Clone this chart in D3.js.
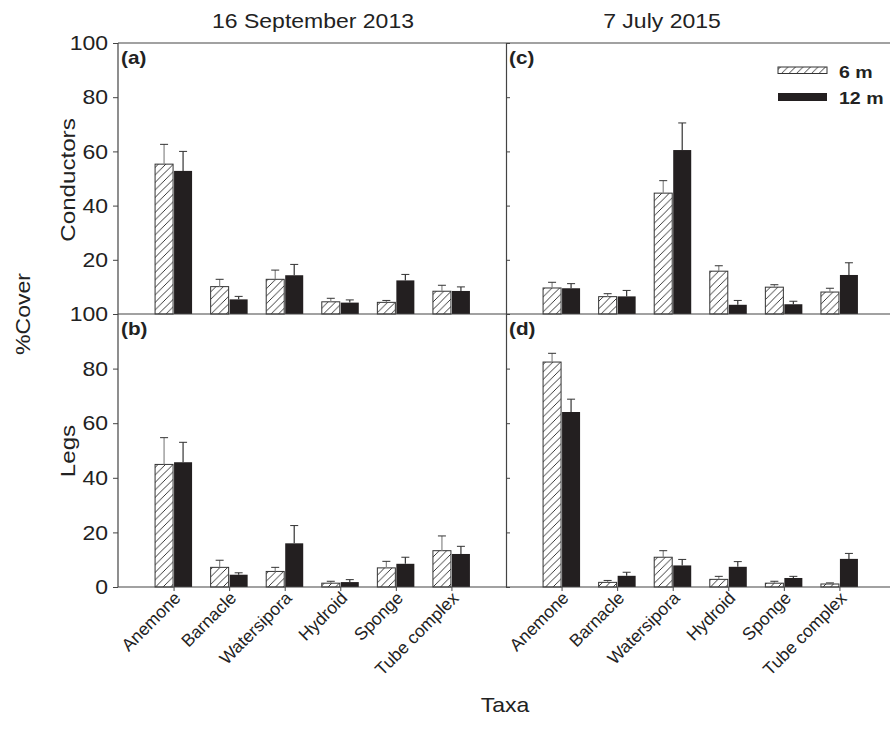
<!DOCTYPE html>
<html>
<head>
<meta charset="utf-8">
<script src="https://cdn.jsdelivr.net/npm/d3@7"></script>
<style>
  body { margin: 0; background: #fff; }
  text { font-family: "Liberation Sans", Arial, sans-serif; fill: #222; }
</style>
</head>
<body>
<script>
// categories and column / row labels
var taxa = ["Anemone", "Barnacle", "Watersipora", "Hydroid", "Sponge", "Tube complex"];
var dates = ["16 September 2013", "7 July 2015"];
var rowNames = ["Conductors", "Legs"];
var depths = ["6 m", "12 m"];
var yTicks = [0, 20, 40, 60, 80, 100];

// mean %cover
var cond2013_6 = [55.3, 10.1, 12.8, 4.5, 4.3, 8.4];
var cond2013_12 = [52.8, 5.4, 14.3, 4.2, 12.4, 8.5];
var cond2015_6 = [9.6, 6.4, 44.6, 15.8, 9.9, 8.1];
var cond2015_12 = [9.5, 6.5, 60.5, 3.4, 3.6, 14.4];
var legs2013_6 = [44.9, 7.2, 5.7, 1.4, 7.0, 13.3];
var legs2013_12 = [45.7, 4.5, 16.0, 1.8, 8.5, 12.1];
var legs2015_6 = [82.4, 1.7, 10.9, 2.8, 1.4, 1.1];
var legs2015_12 = [64.1, 4.1, 7.9, 7.4, 3.3, 10.3];

// standard errors (upper bar only)
var cond2013_6se = [7.3, 2.7, 3.4, 1.3, 0.7, 2.2];
var cond2013_12se = [7.2, 1.1, 4.0, 1.0, 2.2, 1.5];
var cond2015_6se = [2.1, 1.1, 4.6, 2.0, 0.9, 1.4];
var cond2015_12se = [1.7, 2.2, 10.0, 1.6, 1.1, 4.5];
var legs2013_6se = [9.8, 2.6, 1.5, 0.7, 2.4, 5.4];
var legs2013_12se = [7.3, 0.7, 6.5, 0.9, 2.4, 2.8];
var legs2015_6se = [3.2, 0.7, 2.4, 1.1, 0.7, 0.4];
var legs2015_12se = [4.7, 1.3, 2.2, 1.9, 0.6, 2.0];

var panels = [
  { id: "(a)", row: 0, col: 0, v6: cond2013_6, v12: cond2013_12, e6: cond2013_6se, e12: cond2013_12se },
  { id: "(c)", row: 0, col: 1, v6: cond2015_6, v12: cond2015_12, e6: cond2015_6se, e12: cond2015_12se },
  { id: "(b)", row: 1, col: 0, v6: legs2013_6, v12: legs2013_12, e6: legs2013_6se, e12: legs2013_12se },
  { id: "(d)", row: 1, col: 1, v6: legs2015_6, v12: legs2015_12, e6: legs2015_6se, e12: legs2015_12se }
];

var W = 890, H = 735;
var colX = [[118, 507], [506, 895]];
var rowY = [[314, 43], [587, 314]];
var barW = 18;
var axisCol = "#444";
var black = "#231f20";
var SX = 1.15; // the figure's font is wider than Arial

var svg = d3.select("body").append("svg")
    .attr("width", W)
    .attr("height", H);

// write a text at (x, y) with optional rotation, widened by sx
function label(x, y, str, size, opts) {
    opts = opts || {};
    var sx = opts.sx || SX;
    var t = svg.append("text")
        .attr("transform", "translate(" + x + "," + y + ")" +
            (opts.rot ? " rotate(" + opts.rot + ")" : "") + " scale(" + sx + ",1)")
        .attr("text-anchor", opts.anchor || "start")
        .style("font-size", size + "px")
        .text(str);
    if (opts.bold) t.style("font-weight", "bold");
    if (opts.dy) t.attr("dy", opts.dy);
    return t;
}

// hatch pattern for 6 m bars
var pat = svg.append("defs").append("pattern")
    .attr("id", "hatch")
    .attr("patternUnits", "userSpaceOnUse")
    .attr("width", 7.5)
    .attr("height", 7.5);
pat.append("rect").attr("width", 7.5).attr("height", 7.5).attr("fill", "#fff");
pat.append("path")
    .attr("d", "M-1,1 l2,-2 M0,7.5 l7.5,-7.5 M6.5,8.5 l2,-2")
    .attr("stroke", "#222")
    .attr("stroke-width", 0.9);

panels.forEach(function(p) {
    var x = d3.scalePoint().domain(taxa).range(colX[p.col]).padding(1);
    var y = d3.scaleLinear().domain([0, 100]).range(rowY[p.row]);
    var g = svg.append("g");

    // 6 m bars
    g.selectAll(".b6")
        .data(taxa)
        .enter()
        .append("rect")
        .attr("x", function(d) { return x(d) - barW - 0.5; })
        .attr("y", function(d, i) { return y(p.v6[i]); })
        .attr("width", barW)
        .attr("height", function(d, i) { return y(0) - y(p.v6[i]); })
        .attr("fill", "url(#hatch)")
        .attr("stroke", "#333")
        .attr("stroke-width", 1);

    // 12 m bars
    g.selectAll(".b12")
        .data(taxa)
        .enter()
        .append("rect")
        .attr("x", function(d) { return x(d) + 0.5; })
        .attr("y", function(d, i) { return y(p.v12[i]); })
        .attr("width", barW)
        .attr("height", function(d, i) { return y(0) - y(p.v12[i]); })
        .attr("fill", black);

    // error bars
    [[p.v6, p.e6, -barW / 2 - 0.5, "#888"], [p.v12, p.e12, barW / 2 + 0.5, "#333"]].forEach(function(s) {
        taxa.forEach(function(d, i) {
            var cx = x(d) + s[2];
            var top = y(s[0][i] + s[1][i]);
            g.append("line")
                .attr("x1", cx).attr("x2", cx)
                .attr("y1", y(s[0][i])).attr("y2", top)
                .attr("stroke", s[3]).attr("stroke-width", 1.2);
            g.append("line")
                .attr("x1", cx - 4).attr("x2", cx + 4)
                .attr("y1", top).attr("y2", top)
                .attr("stroke", "#333").attr("stroke-width", 1);
        });
    });

    // y axis
    if (p.col === 0) {
        var yAxis = d3.axisLeft(y)
            .tickValues(p.row === 0 ? yTicks.slice(1) : yTicks)
            .tickSize(5)
            .tickFormat("");
        var ga = svg.append("g")
            .attr("transform", "translate(" + colX[0][0] + ",0)")
            .call(yAxis);
        ga.select(".domain").remove();
        ga.selectAll("line").attr("stroke", axisCol);
        (p.row === 0 ? yTicks.slice(1) : yTicks).forEach(function(v) {
            label(108, y(v), v, 20, { anchor: "end", dy: "0.36em" });
        });
    } else {
        var yIn = d3.axisRight(y).tickValues(yTicks).tickSize(4).tickFormat("");
        var gi = svg.append("g")
            .attr("transform", "translate(" + colX[1][0] + ",0)")
            .call(yIn);
        gi.select(".domain").remove();
        gi.selectAll("line").attr("stroke", axisCol);
    }

    // x axis ticks and labels on bottom row
    if (p.row === 1) {
        var xAxis = d3.axisBottom(x).tickSize(4).tickFormat("");
        var gx = svg.append("g")
            .attr("transform", "translate(0," + rowY[1][0] + ")")
            .call(xAxis);
        gx.select(".domain").remove();
        gx.selectAll("line").attr("stroke", axisCol);

        taxa.forEach(function(d) {
            label(x(d) + 2, rowY[1][0] + 6, d, 17.5, { rot: -45, anchor: "end", dy: "0.5em", sx: 1 });
        });
    }

    // panel letter
    label(colX[p.col][0] + 3, rowY[p.row][1] + 21, p.id, 18, { bold: true });
});

// frame lines
var frame = [
    [118, 43, 890, 43],
    [118, 314, 890, 314],
    [118, 587, 890, 587],
    [118, 43, 118, 587],
    [506.5, 43, 506.5, 587]
];
svg.selectAll(".frame")
    .data(frame)
    .enter()
    .append("line")
    .attr("x1", function(d) { return d[0]; })
    .attr("y1", function(d) { return d[1]; })
    .attr("x2", function(d) { return d[2]; })
    .attr("y2", function(d) { return d[3]; })
    .attr("stroke", axisCol)
    .attr("stroke-width", 1.2);

// column titles
var titleX = [313, 662];
dates.forEach(function(d, i) {
    label(titleX[i], 28, d, 20, { anchor: "middle" });
});

// row titles and axis titles
label(30, 314, "%Cover", 20, { rot: -90, anchor: "middle" });
rowNames.forEach(function(d, i) {
    label(75, i === 0 ? 180 : 451, d, 21, { rot: -90, anchor: "middle" });
});
label(505, 712, "Taxa", 20, { anchor: "middle" });

// legend
depths.forEach(function(d, i) {
    svg.append("rect")
        .attr("x", 778)
        .attr("y", i === 0 ? 67 : 93)
        .attr("width", 49)
        .attr("height", i === 0 ? 6.5 : 8)
        .attr("fill", i === 0 ? "url(#hatch)" : black)
        .attr("stroke", i === 0 ? "#333" : "none");
    label(839, i === 0 ? 78 : 104, d, 17, { bold: true });
});
</script>
</body>
</html>
